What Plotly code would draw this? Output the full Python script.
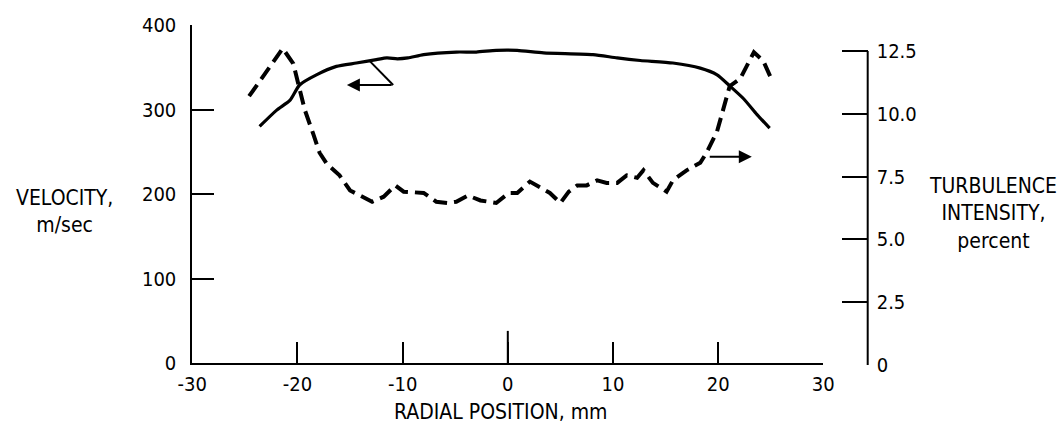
import plotly.graph_objects as go

# Radial traverse: mean velocity (solid) and turbulence intensity (dashed)
velocity_x = [-23.6, -22.0, -20.7, -19.8, -18.2, -16.3, -14.4, -12.5, -11.5, -10.5, -9.5,
              -8.0, -4.9, -3.0, -1.1, 0.9, 3.4, 8.1, 10.4, 12.6, 15.7, 18.3, 19.9,
              21.1, 22.4, 23.7, 24.9]
velocity = [280, 299, 311, 329, 341, 351, 355, 359, 361, 360, 361,
            365, 368, 368, 370, 370, 367, 365, 361, 358, 355, 349, 341,
            328, 313, 294, 278]

turb_x = [-24.6, -21.4, -20.4, -19.9, -19.3, -18.5, -17.9, -17.2, -16.0, -15.0,
          -12.9, -11.8, -10.7, -9.9, -8.0, -6.8, -5.7, -4.9, -3.8, -2.6, -1.1,
          0.1, 0.9, 2.1, 3.1, 4.0, 5.0, 5.8, 6.6, 7.5, 8.5, 9.4, 10.4, 11.3,
          12.3, 12.9, 13.8, 15.1, 15.7, 17.0, 18.3, 18.9, 19.9, 20.5, 21.1,
          22.1, 22.7, 23.4, 24.3, 25.1]
turbulence = [10.7, 12.6, 12.0, 11.2, 10.15, 9.2, 8.45, 8.0, 7.55, 6.95,
              6.5, 6.7, 7.15, 6.9, 6.85, 6.5, 6.45, 6.5, 6.75, 6.55, 6.45,
              6.85, 6.85, 7.3, 7.05, 6.85, 6.45, 6.9, 7.15, 7.15, 7.35, 7.25, 7.25, 7.55,
              7.45, 7.75, 7.25, 6.9, 7.35, 7.75, 8.05, 8.45, 9.3, 10.15, 11.1,
              11.4, 11.85, 12.45, 12.1, 11.35]

x_ticks = [-30, -20, -10, 0, 10, 20, 30]
x_tick_text = ["-30", "-20", "-10", "0", "10", "20", "30"]
vel_ticks = [0, 100, 200, 300, 400]
turb_ticks = [0, 2.5, 5.0, 7.5, 10.0, 12.5]
turb_tick_text = ["0", "2.5", "5.0", "7.5", "10.0", "12.5"]

FONT = "DejaVu Sans Condensed, Liberation Sans Narrow, DejaVu Sans, sans-serif"
W, H = 1064, 432

def px_x(p):
    return p / W

def px_y(p):
    return 1 - p / H

fig = go.Figure()
fig.add_trace(go.Scatter(x=velocity_x, y=velocity, mode="lines",
                         line=dict(color="black", width=3.2, shape="spline", smoothing=0.6),
                         xaxis="x", yaxis="y", showlegend=False))
fig.add_trace(go.Scatter(x=turb_x, y=turbulence, mode="lines",
                         line=dict(color="black", width=4, dash="14px,7px"),
                         xaxis="x", yaxis="y2", showlegend=False))

# turbulence axis: 0 at 365 px, 12.5 at 51 px
t_per_px = 12.5 / (365 - 51)
t_top = 13.0
y2_top_px = 365 - t_top / t_per_px

tick_font = dict(family=FONT, size=20, color="black")

fig.update_layout(
    width=W, height=H,
    margin=dict(l=0, r=0, t=0, b=0, autoexpand=False),
    paper_bgcolor="white", plot_bgcolor="rgba(0,0,0,0)",
    font=dict(family=FONT, size=20, color="black"),
    xaxis=dict(domain=[px_x(192.3), px_x(823.3)], range=[-30, 30],
               tickvals=x_ticks, ticktext=x_tick_text, tickfont=tick_font,
               ticks="inside", ticklen=21, tickwidth=2, tickcolor="black",
               showline=True, linewidth=2, linecolor="black",
               showgrid=False, zeroline=False, anchor="y",
               ticklabelstandoff=2),
    yaxis=dict(domain=[px_y(363), px_y(25)], range=[0, 400],
               tickvals=vel_ticks, tickfont=tick_font,
               ticks="inside", ticklen=22, tickwidth=2, tickcolor="black",
               showline=True, linewidth=2, linecolor="black",
               showgrid=False, zeroline=False, anchor="x",
               ticklabelstandoff=10),
    yaxis2=dict(domain=[px_y(365), px_y(y2_top_px)], range=[0, t_top],
                tickvals=turb_ticks, ticktext=turb_tick_text, tickfont=tick_font,
                ticks="inside", ticklen=26, tickwidth=2, tickcolor="black",
                showline=False, showgrid=False, zeroline=False,
                anchor="free", position=px_x(867.7), side="right",
                ticklabelstandoff=8),
)

# turbulence spine from 0 to 12.5
fig.add_shape(type="line", xref="paper", yref="y2",
              x0=px_x(867.7), x1=px_x(867.7), y0=0, y1=12.5,
              line=dict(color="black", width=2))
# longer centre tick at zero radius
fig.add_shape(type="line", xref="x", yref="y", x0=0, x1=0, y0=0, y1=38,
              line=dict(color="black", width=2))

# pointer from velocity curve to its axis
fig.add_shape(type="line", xref="x", yref="y", x0=-13.1, y0=357, x1=-10.9, y1=329,
              line=dict(color="black", width=2))
fig.add_annotation(x=-15.3, y=329, ax=-10.9, ay=329, xref="x", yref="y",
                   axref="x", ayref="y", text="", showarrow=True,
                   arrowhead=2, arrowsize=1.3, arrowwidth=2, arrowcolor="black")
# pointer from turbulence curve to its axis
fig.add_annotation(x=23.2, y=8.29, ax=19.06, ay=8.29, xref="x", yref="y2",
                   axref="x", ayref="y2", text="", showarrow=True,
                   arrowhead=2, arrowsize=1.3, arrowwidth=2, arrowcolor="black")

# axis titles
title_style = dict(xref="paper", yref="paper", showarrow=False, align="center",
                   xanchor="center", yanchor="middle", font=dict(size=21))
fig.add_annotation(x=px_x(64), y=px_y(212), text="VELOCITY,<br>m/sec", **title_style)
fig.add_annotation(x=px_x(993), y=px_y(213),
                   text="TURBULENCE<br>INTENSITY,<br>percent", **title_style)
fig.add_annotation(x=px_x(501), y=px_y(412), text="RADIAL POSITION, mm", **title_style)

fig.write_html("out.html")
